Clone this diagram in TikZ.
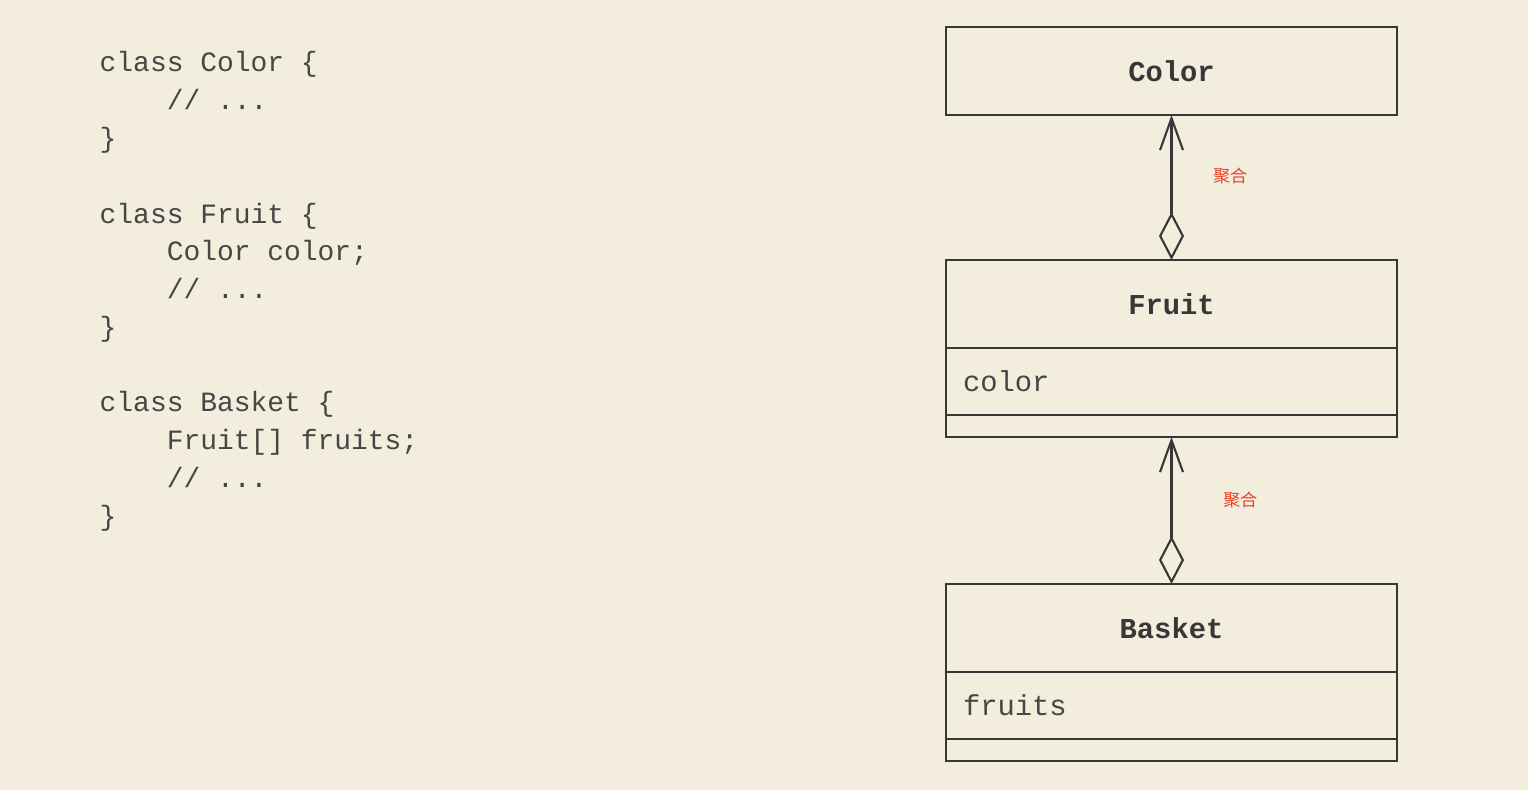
\documentclass[tikz,border=0pt]{standalone}
\usepackage{fontspec}
\setmonofont{Liberation Mono}
\newfontfamily\cjk{Noto Sans CJK SC}
\usepackage{tikz}
\usetikzlibrary{arrows.meta, positioning}

\definecolor{paper}{RGB}{243,237,222}
\definecolor{ink}{RGB}{55,55,55}
\definecolor{codeink}{RGB}{70,70,70}
\definecolor{notered}{RGB}{232,68,40}

\newcommand{\codefont}{\ttfamily\fontsize{8.2}{10.75}\selectfont}
\newcommand{\listingfont}{\ttfamily\fontsize{7.95}{10.75}\selectfont}
\newcommand{\codeindent}{\phantom{xxxx}}

\tikzset{
    classname/.style={draw=ink, line width=0.6pt, outer sep=0pt, inner sep=0pt,
        minimum width=4.51cm, minimum height=0.88cm, font=\codefont\bfseries, text=ink},
    classattr/.style={draw=ink, line width=0.6pt, outer sep=0pt, inner xsep=0.17cm, inner ysep=0pt,
        text width=4.17cm, minimum height=0.67cm, align=left, font=\codefont, text=codeink},
    classops/.style={draw=ink, line width=0.6pt, outer sep=0pt, inner sep=0pt,
        minimum width=4.51cm, minimum height=0.22cm},
    aggr/.style={draw=ink, line width=0.6pt,
        {Diamond[open,length=0.48cm,width=0.25cm]}-{Straight Barb[length=0.32cm,width=0.23cm]}},
    relname/.style={font=\cjk\fontsize{4.9}{6}\selectfont, text=notered, inner sep=0pt}
}

\begin{document}
\begin{tikzpicture}
    % Paper
    \fill[paper] (0,0) rectangle (15.28,7.9);

    % Source listing
    \node[anchor=north west, inner sep=0pt, align=left, font=\listingfont, text=codeink] (code) at (0.99,7.39)
        {class Color \{\\
         \codeindent// ...\\
         \}\\
         ~\\
         class Fruit \{\\
         \codeindent Color color;\\
         \codeindent// ...\\
         \}\\
         ~\\
         class Basket \{\\
         \codeindent Fruit[] fruits;\\
         \codeindent// ...\\
         \}};

    % Class boxes
    \node[classname] (color) at (11.715,7.19) {Color};

    \node[classname, below=1.45cm of color] (fruit) {Fruit};
    \node[classattr, below=0pt of fruit] (fruitattr) {color};
    \node[classops, below=0pt of fruitattr] (fruitops) {};

    \node[classname, below=1.47cm of fruitops] (basket) {Basket};
    \node[classattr, below=0pt of basket] (basketattr) {fruits};
    \node[classops, below=0pt of basketattr] (basketops) {};

    % Aggregations
    \draw[aggr] (fruit.north) -- (color.south)
        node[relname, pos=0.58, right=0.41cm] (agg1) {聚合};
    \draw[aggr] (basket.north) -- (fruitops.south)
        node[relname, pos=0.57, right=0.51cm] (agg2) {聚合};
\end{tikzpicture}
\end{document}
